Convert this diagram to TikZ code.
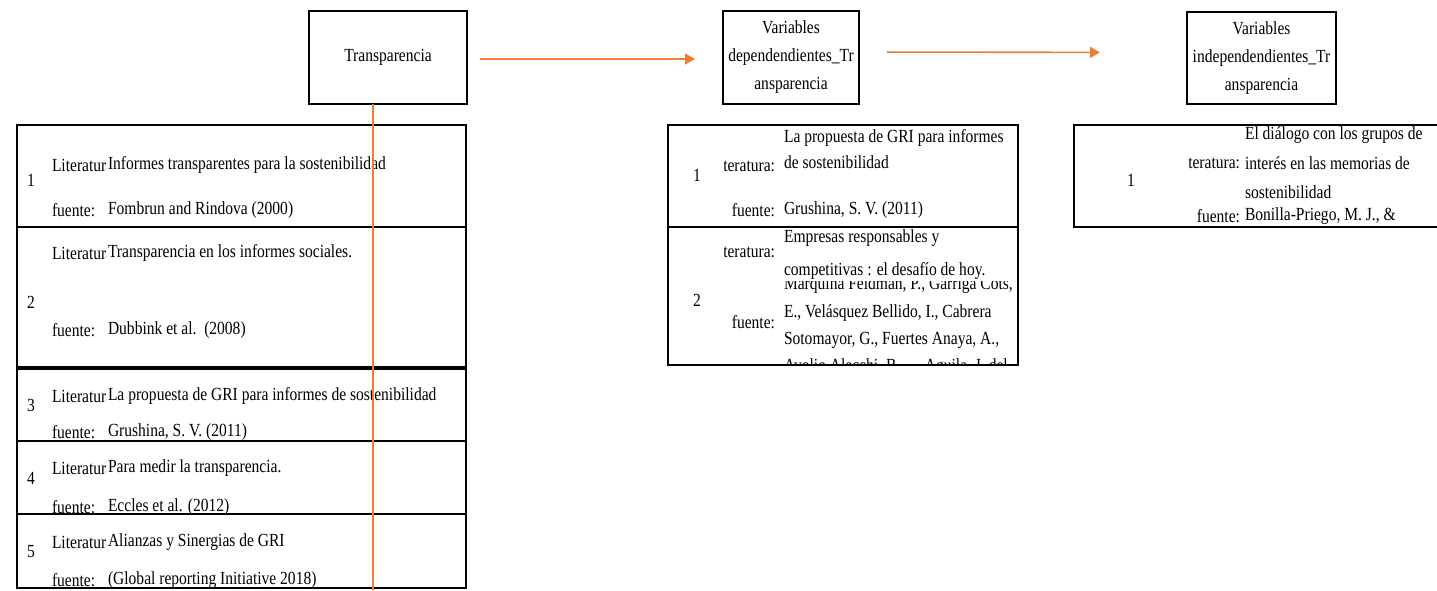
\documentclass[tikz,border=0pt]{standalone}
\usepackage{fontspec}
\setmainfont[FakeStretch=0.84]{Liberation Serif}
\usetikzlibrary{arrows.meta}
\definecolor{acc}{HTML}{ED7D31}
\tikzset{
  every node/.style={font=\fontsize{18.5}{28}\selectfont, inner sep=0pt, outer sep=0pt},
  box/.style={draw, line width=1.8pt, align=center},
  rowbox/.style={draw, line width=1.8pt},
  txt/.style={anchor=west},
  rtxt/.style={anchor=east},
  arr/.style={draw=acc, line width=1.6pt, -{Triangle[length=10pt,width=11pt]}},
  vline/.style={draw=acc, line width=1.3pt}
}
\newcommand{\litL}{\makebox[54pt][l]{Literatura:}}
\newcommand{\litR}{\makebox[50pt][r]{Literatura:}}
\begin{document}
\begin{tikzpicture}[x=1pt,y=-1pt]
\useasboundingbox (0,0) rectangle (1437,590);

% top boxes
\node[box, minimum width=158, minimum height=93] (T) at (388,57.5) {Transparencia};
\node[box, minimum width=136, minimum height=93] (VD) at (791,57.5) {Variables\\dependendientes\_Tr\\ansparencia};
\node[box, minimum width=149, minimum height=92] (VI) at (1261.5,58) {Variables\\independendientes\_Tr\\ansparencia};

% arrows
\draw[arr, shorten <=13pt, shorten >=28pt] ([yshift=-1.5pt]T.east) -- ([yshift=-1.5pt]VD.west);
\draw[arr, shorten <=28pt, shorten >=87pt] ([yshift=5.5pt]VD.east) -- ([yshift=5.5pt]VI.west);

% left table rows
\node[rowbox, minimum width=449, minimum height=102] (r1) at (241.5,176) {};
\node[rowbox, minimum width=449, minimum height=140] (r2) at (241.5,297) {};
\node[rowbox, minimum width=449, minimum height=72] (r3) at (241.5,405) {};
\node[rowbox, minimum width=449, minimum height=73] (r4) at (241.5,477.5) {};
\node[rowbox, minimum width=449, minimum height=74] (r5) at (241.5,551) {};

% left table numbers
\node (n1) at (31,180) {1};
\node (n2) at (31,302) {2};
\node (n3) at (31,405) {3};
\node (n4) at (31,478) {4};
\node (n5) at (31,552) {5};

% left table clipped labels
\begin{scope}
\clip (52,120) rectangle (106,590);
\node[txt] (lit1) at (52,165) {\litL};
\node[txt] (lit2) at (52,253) {\litL};
\node[txt] (lit3) at (52,396) {\litL};
\node[txt] (lit4) at (52,468) {\litL};
\node[txt] (lit5) at (52,542) {\litL};
\end{scope}
\node[txt] (fu1) at (52,210) {fuente:};
\node[txt] (fu2) at (52,330) {fuente:};
\node[txt] (fu3) at (52,432) {fuente:};
\node[txt] (fu4) at (52,507) {fuente:};
\node[txt] (fu5) at (52,580) {fuente:};

\node[txt] (v1) at (108,165) {Informes transparentes para la sostenibilidad};
\node[txt] (s1) at (108,210) {Fombrun and Rindova (2000)};
\node[txt] (v2) at (108,253) {Transparencia en los informes sociales.};
\node[txt] (s2) at (108,330) {Dubbink et al.\ \ (2008)};
\node[txt] (v3) at (108,396) {La propuesta de GRI para informes de sostenibilidad};
\node[txt] (s3) at (108,432) {Grushina, S. V. (2011)};
\node[txt] (v4) at (108,468) {Para medir la transparencia.};
\node[txt] (s4) at (108,507) {Eccles et al. (2012)};
\node[txt] (v5) at (108,542) {Alianzas y Sinergias de GRI};
\node[txt] (s5) at (108,580) {(Global reporting Initiative 2018)};

% middle table
\node[rowbox, minimum width=350, minimum height=102] (m1) at (843,176) {};
\node[rowbox, minimum width=350, minimum height=138] (m2) at (843,296) {};
\node (mn1) at (697,175) {1};
\node (mn2) at (697,300) {2};
\begin{scope}
\clip (724,120) rectangle (780,370);
\node[rtxt] (mlit1) at (775,165) {\litR};
\node[rtxt] (mlit2) at (775,251) {\litR};
\end{scope}
\node[rtxt] (mfu1) at (775,210) {fuente:};
\node[rtxt] (mfu2) at (775,322) {fuente:};
\node[txt] (mv1a) at (784,138) {La propuesta de GRI para informes};
\node[txt] (mv1b) at (784,162) {de sostenibilidad};
\node[txt] (ms1) at (784,210) {Grushina, S. V. (2011)};
\node[txt] (mv2a) at (784,238) {Empresas responsables y};
\node[txt] (mv2b) at (784,271) {competitivas : el desafío de hoy.};
\begin{scope}
\clip (780,281) rectangle (1018,364);
\node[txt] (ms2a) at (784,285) {Marquina Feldman, P., Garriga Cots,};
\node[txt] (ms2b) at (784,313) {E., Velásquez Bellido, I., Cabrera};
\node[txt] (ms2c) at (784,340) {Sotomayor, G., Fuertes Anaya, A.,};
\node[txt] (ms2d) at (784,367) {Avolio Alecchi, B., ... Aguila, J. del};
\end{scope}

% right table
\draw[line width=1.8pt] (1440,125) -| (1074,227) -- (1440,227);
\node (rn1) at (1131,180) {1};
\begin{scope}
\clip (1188,120) rectangle (1243,230);
\node[rtxt] (rlit1) at (1240,163) {\litR};
\end{scope}
\node[rtxt] (rfu1) at (1240,216) {fuente:};
\node[txt] (rv1a) at (1245,135) {El diálogo con los grupos de};
\node[txt] (rv1b) at (1245,163) {interés en las memorias de};
\node[txt] (rv1c) at (1245,192) {sostenibilidad};
\node[txt] (rs1) at (1245,216) {Bonilla-Priego, M. J., \&};

% orange vertical connector
\coordinate (vend) at (373,590);
\draw[vline] (T.south -| vend) -- (vend);
\end{tikzpicture}
\end{document}
